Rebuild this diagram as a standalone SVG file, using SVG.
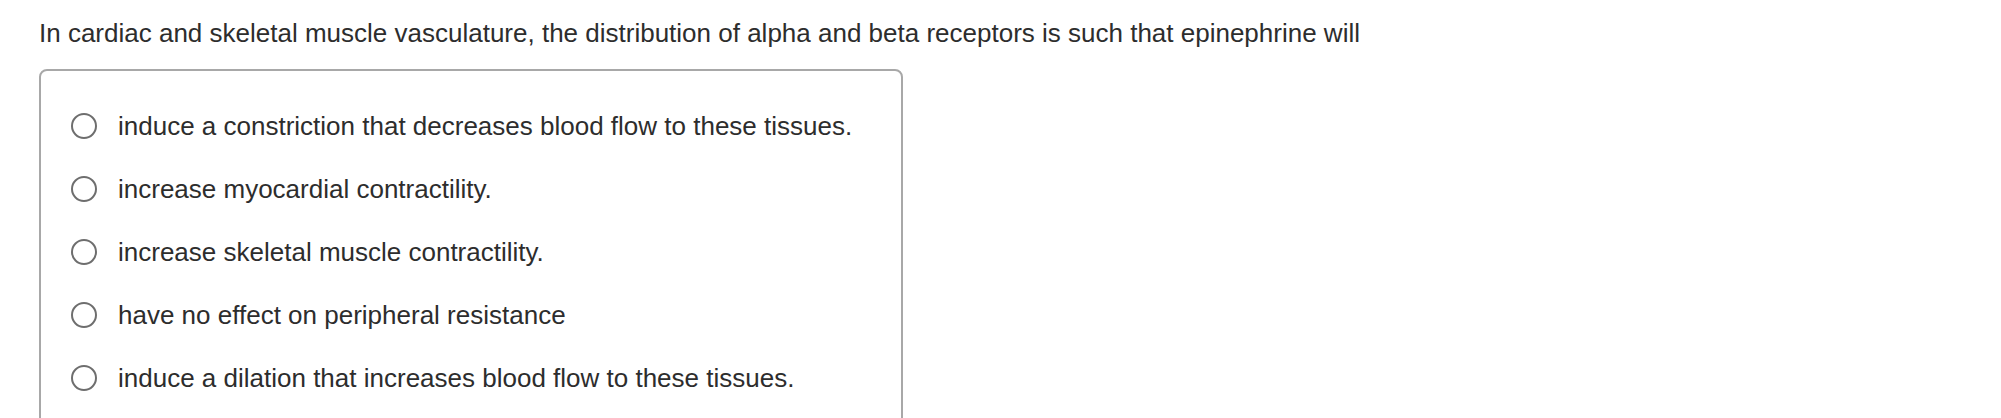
<svg xmlns="http://www.w3.org/2000/svg" width="2001" height="418" viewBox="0 0 2001 418">
<style>
text{font-family:"Liberation Sans",Arial,sans-serif;font-size:26px;fill:#2d2d2d}
.r{fill:#fff;stroke:#6e6e6e;stroke-width:2}
</style>
<rect width="2001" height="418" fill="#fff"/>
<text x="39" y="42">In cardiac and skeletal muscle vasculature, the distribution of alpha and beta receptors is such that epinephrine will</text>
<rect x="40" y="70" width="862" height="370" rx="7" fill="#fff" stroke="#a8a8a8" stroke-width="2"/>
<g id="opt1"><circle class="r" cx="84" cy="126" r="12"/><text x="118" y="135">induce a constriction that decreases blood flow to these tissues.</text></g>
<g id="opt2"><circle class="r" cx="84" cy="189" r="12"/><text x="118" y="198">increase myocardial contractility.</text></g>
<g id="opt3"><circle class="r" cx="84" cy="252" r="12"/><text x="118" y="261">increase skeletal muscle contractility.</text></g>
<g id="opt4"><circle class="r" cx="84" cy="315" r="12"/><text x="118" y="324">have no effect on peripheral resistance</text></g>
<g id="opt5"><circle class="r" cx="84" cy="378" r="12"/><text x="118" y="387">induce a dilation that increases blood flow to these tissues.</text></g>
</svg>
